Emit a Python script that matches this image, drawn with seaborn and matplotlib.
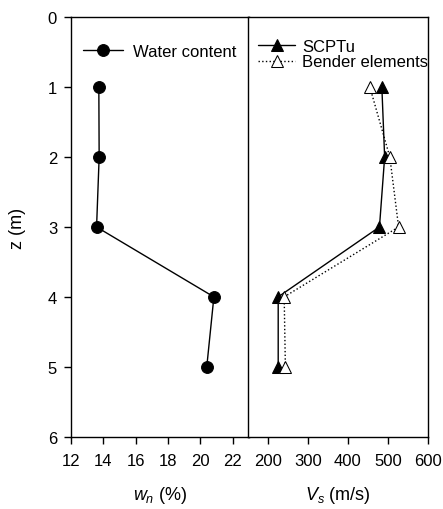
import matplotlib
matplotlib.use("Agg")
import matplotlib.pyplot as plt
import seaborn as sns
import pandas as pd

# Depth profile data
depth = [1, 2, 3, 4, 5]
water_content = [13.72, 13.74, 13.58, 20.83, 20.39]
vs_scptu = [485, 492, 479, 225, 225]
vs_bender = [455, 505, 527, 240, 243]

z_ticks = [0, 1, 2, 3, 4, 5, 6]
wn_ticks = [12, 14, 16, 18, 20, 22]
vs_ticks = [200, 300, 400, 500, 600]

sns.set_theme(style="ticks")
plt.rcParams["font.family"] = ["Liberation Sans", "DejaVu Sans"]
plt.rcParams["mathtext.fontset"] = "custom"
plt.rcParams["mathtext.it"] = "Liberation Sans:italic"
plt.rcParams["mathtext.rm"] = "Liberation Sans"
plt.rcParams["text.color"] = "black"
plt.rcParams["axes.labelcolor"] = "black"

W, H = 443, 510
fig = plt.figure(figsize=(W / 100, H / 100), dpi=100)
top = 1 - 18.3 / H
bottom = 1 - 437.7 / H
ax1 = fig.add_axes([71 / W, bottom, (249 - 71) / W, top - bottom])
ax2 = fig.add_axes([248.3 / W, bottom, (427.7 - 248.3) / W, top - bottom])

df = pd.DataFrame({"z": depth, "wn": water_content,
                   "scptu": vs_scptu, "bender": vs_bender})

sns.lineplot(data=df, x="wn", y="z", sort=False, estimator=None, ax=ax1,
             color="black", lw=1, marker="o", markersize=8.5,
             markeredgecolor="black", label="Water content")

sns.lineplot(data=df, x="scptu", y="z", sort=False, estimator=None, ax=ax2,
             color="black", lw=1, marker="^", markersize=8,
             markeredgecolor="black", label="SCPTu")
sns.lineplot(data=df, x="bender", y="z", sort=False, estimator=None, ax=ax2,
             color="black", lw=1, ls=":", marker="^", markersize=8,
             markerfacecolor="white", markeredgecolor="black",
             label="Bender elements")

for ax in (ax1, ax2):
    ax.set_ylim(6, 0)
    for s in ax.spines.values():
        s.set_visible(True)
        s.set_linewidth(1)
        s.set_color("black")
    ax.tick_params(axis="both", direction="out", length=5, width=1,
                   colors="black", labelsize=12, top=False, right=False,
                   pad=5)
    ax.tick_params(axis="x", pad=7)

ax1.set_xlim(12, 23)
ax1.set_xticks(wn_ticks)
ax1.set_yticks(z_ticks)
ax1.set_xlabel(r"$w_n$ (%)", fontsize=13, labelpad=11)
ax1.set_ylabel("z (m)", fontsize=13, labelpad=16)

ax2.set_xlim(150, 600)
ax2.set_xticks(vs_ticks)
ax2.set_yticks([])
ax2.set_xlabel(r"$V_s$ (m/s)", fontsize=13, labelpad=11)
ax2.set_ylabel("")

ax1.legend(loc="upper left", frameon=False, fontsize=12,
           bbox_to_anchor=(0.0, 0.965), handlelength=2.4, handletextpad=0.6,
           borderaxespad=0.3)
ax2.legend(loc="upper left", frameon=False, fontsize=12,
           bbox_to_anchor=(-0.01, 0.977), handlelength=2.2, handletextpad=0.45,
           labelspacing=0.05, borderaxespad=0.3)

fig.savefig("out.png", dpi=100, facecolor="white")
